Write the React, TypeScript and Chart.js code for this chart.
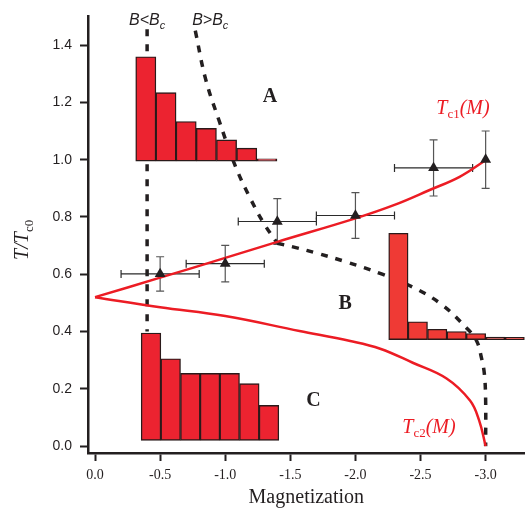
import React, { useEffect, useRef } from 'react';
import { Chart, registerables } from 'chart.js';

Chart.register(...registerables);

// ---------- axis ticks ----------
const xTickValues = [0, -0.5, -1.0, -1.5, -2.0, -2.5, -3.0];
const yTickValues = [0, 0.2, 0.4, 0.6, 0.8, 1.0, 1.2, 1.4];

// ---------- histogram A (top) ----------
const histACenters = [-0.39, -0.545, -0.7, -0.855, -1.01, -1.165, -1.32];
const histATops = [1.359, 1.234, 1.133, 1.109, 1.069, 1.04, 1.003];
const histABase = 0.995;

// ---------- histogram B (right) ----------
const histBCenters = [-2.33, -2.479, -2.628, -2.777, -2.926, -3.075, -3.224];
const histBTops = [0.743, 0.434, 0.408, 0.4, 0.393, 0.381, 0.38];
const histBBase = 0.372;

// ---------- histogram C (bottom) ----------
const histCCenters = [-0.43, -0.581, -0.732, -0.883, -1.034, -1.185, -1.336];
const histCTops = [0.395, 0.305, 0.254, 0.254, 0.254, 0.218, 0.142];
const histCBase = 0.02;

// ---------- Tc1(M) curve ----------
const tc1X = [0, -0.5, -1.0, -1.4, -2.0, -2.3, -2.57, -2.8, -3.0];
const tc1Y = [0.52, 0.588, 0.657, 0.713, 0.795, 0.842, 0.894, 0.94, 0.998];

// ---------- Tc2(M) curve ----------
const tc2X = [0, -0.5, -1.0, -1.57, -1.96, -2.19, -2.44, -2.7, -2.88, -2.95, -3.0];
const tc2Y = [0.52, 0.485, 0.454, 0.402, 0.367, 0.34, 0.291, 0.236, 0.159, 0.09, 0.0];

// ---------- dashed boundaries ----------
const belowBcX = [-0.4, -0.4];
const belowBcY = [1.455, 0.4];
const aboveBcUpperX = [-0.77, -0.85, -0.95, -1.08, -1.2, -1.3, -1.4];
const aboveBcUpperY = [1.45, 1.28, 1.14, 0.975, 0.858, 0.775, 0.708];
const aboveBcLowerX = [-1.4, -1.55, -1.7, -1.93, -2.2, -2.44, -2.66, -2.85, -2.93, -2.967, -2.99, -3.0, -3.0];
const aboveBcLowerY = [0.708, 0.692, 0.674, 0.643, 0.601, 0.555, 0.495, 0.414, 0.368, 0.31, 0.253, 0.16, 0.0];

// ---------- measured points ----------
const ptX = [-0.5, -1.0, -1.4, -2.0, -2.6, -3.0];
const ptY = [0.601, 0.637, 0.784, 0.805, 0.971, 1.0];
const ptXErr = [0.3, 0.3, 0.3, 0.3, 0.3, 0];
const ptYErr = [0.06, 0.064, 0.08, 0.08, 0.098, 0.1];

const X_MIN = -3.3;
const X_MAX = 0.054;
const Y_MIN = -0.024;
const Y_MAX = 1.5;

const AXIS = '#231f20';
const RED = '#ec1c24';
const BAR_RED = '#ec2330';
const BAR_RED_B = '#ef3a35';
const BAR_EDGE = '#2a1a1a';

const SERIF = '"Liberation Serif", "Times New Roman", serif';
const SANS = '"Liberation Sans", Arial, sans-serif';

type Seg = { t: string; font: string; dy?: number };

function drawRich(ctx: CanvasRenderingContext2D, segs: Seg[], x: number, y: number, align: 'left' | 'center', color: string) {
  ctx.fillStyle = color;
  ctx.textBaseline = 'alphabetic';
  ctx.textAlign = 'left';
  const widths = segs.map((s) => {
    ctx.font = s.font;
    return ctx.measureText(s.t).width;
  });
  const total = widths.reduce((a, b) => a + b, 0);
  let cx = align === 'center' ? x - total / 2 : x;
  segs.forEach((s, i) => {
    ctx.font = s.font;
    ctx.fillText(s.t, cx, y + (s.dy || 0));
    cx += widths[i];
  });
}

const errorBarPlugin = {
  id: 'errorBars',
  beforeDatasetsDraw(chart: any) {
    const { ctx } = chart;
    const xs = chart.scales.x;
    const ys = chart.scales.y;
    ctx.save();
    ctx.lineWidth = 1.2;
    const cap = 4;
    ptX.forEach((vx, i) => {
      const cx = xs.getPixelForValue(vx);
      const cy = ys.getPixelForValue(ptY[i]);
      if (ptXErr[i] > 0) {
        const x1 = xs.getPixelForValue(vx - ptXErr[i]);
        const x2 = xs.getPixelForValue(vx + ptXErr[i]);
        ctx.strokeStyle = '#2b2b2b';
        ctx.beginPath();
        ctx.moveTo(x1, cy); ctx.lineTo(x2, cy);
        ctx.moveTo(x1, cy - cap); ctx.lineTo(x1, cy + cap);
        ctx.moveTo(x2, cy - cap); ctx.lineTo(x2, cy + cap);
        ctx.stroke();
      }
      if (ptYErr[i] > 0) {
        const y1 = ys.getPixelForValue(ptY[i] - ptYErr[i]);
        const y2 = ys.getPixelForValue(ptY[i] + ptYErr[i]);
        ctx.strokeStyle = '#555555';
        ctx.beginPath();
        ctx.moveTo(cx, y1); ctx.lineTo(cx, y2);
        ctx.moveTo(cx - cap, y1); ctx.lineTo(cx + cap, y1);
        ctx.moveTo(cx - cap, y2); ctx.lineTo(cx + cap, y2);
        ctx.stroke();
      }
    });
    ctx.restore();
  },
};

const textPlugin = {
  id: 'annotText',
  afterDatasetsDraw(chart: any) {
    const { ctx } = chart;
    const xs = chart.scales.x;
    const ys = chart.scales.y;
    const px = (v: number) => xs.getPixelForValue(v);
    const py = (v: number) => ys.getPixelForValue(v);
    ctx.save();
    // B<Bc and B>Bc
    drawRich(ctx, [
      { t: 'B<B', font: `italic 16px ${SANS}` },
      { t: 'c', font: `italic 11px ${SANS}`, dy: 4 },
    ], px(-0.4), py(1.471), 'center', AXIS);
    drawRich(ctx, [
      { t: 'B>B', font: `italic 16px ${SANS}` },
      { t: 'c', font: `italic 11px ${SANS}`, dy: 4 },
    ], px(-0.885), py(1.471), 'center', AXIS);
    // region letters
    drawRich(ctx, [{ t: 'A', font: `bold 20px ${SERIF}` }], px(-1.343), py(1.2025), 'center', AXIS);
    drawRich(ctx, [{ t: 'B', font: `bold 20px ${SERIF}` }], px(-1.922), py(0.478), 'center', AXIS);
    drawRich(ctx, [{ t: 'C', font: `bold 20px ${SERIF}` }], px(-1.678), py(0.139), 'center', AXIS);
    // curve labels
    drawRich(ctx, [
      { t: 'T', font: `italic 20px ${SERIF}` },
      { t: 'c1', font: `13px ${SERIF}`, dy: 4 },
      { t: '(M)', font: `italic 20px ${SERIF}` },
    ], px(-2.621), py(1.158), 'left', RED);
    drawRich(ctx, [
      { t: 'T', font: `italic 20px ${SERIF}` },
      { t: 'c2', font: `13px ${SERIF}`, dy: 4 },
      { t: '(M)', font: `italic 20px ${SERIF}` },
    ], px(-2.36), py(0.046), 'left', RED);
    // y axis title
    ctx.translate(chart.chartArea.left - 60, py(0.72));
    ctx.rotate(-Math.PI / 2);
    drawRich(ctx, [
      { t: 'T/T', font: `italic 20px ${SERIF}` },
      { t: 'c0', font: `13px ${SERIF}`, dy: 5 },
    ], 0, 0, 'center', AXIS);
    ctx.restore();
  },
};

const toXY = (xs: number[], ys: number[]) => xs.map((x, i) => ({ x, y: ys[i] }));
const toBars = (cs: number[], tops: number[], base: number) => cs.map((x, i) => ({ x, y: [base, tops[i]] }));

const hiddenX = () => ({
  type: 'linear',
  axis: 'x',
  position: 'bottom',
  display: false,
  min: X_MIN,
  max: X_MAX,
  reverse: true,
  offset: false,
  afterBuildTicks: (s: any) => { s.ticks = []; },
});

export default function App() {
  const ref = useRef<HTMLCanvasElement | null>(null);

  useEffect(() => {
    if (!ref.current) return;
    const barCommon = {
      type: 'bar' as const,
      grouped: false,
      barPercentage: 1,
      categoryPercentage: 1,
      borderWidth: 1.4,
      borderColor: BAR_EDGE,
      borderSkipped: false,
      order: 1,
    };
    const dashCommon = {
      type: 'line' as const,
      showLine: true,
      borderColor: AXIS,
      borderWidth: 3.5,
      borderDash: [7, 8],
      pointRadius: 0,
      fill: false,
      order: 3,
    };
    const chart = new Chart(ref.current, {
      type: 'scatter',
      data: {
        datasets: [
          {
            type: 'scatter',
            label: 'measured',
            data: toXY(ptX, ptY),
            pointStyle: 'triangle',
            pointRadius: 6.3,
            backgroundColor: AXIS,
            borderColor: AXIS,
            borderWidth: 0,
            order: 0,
          } as any,
          { ...barCommon, label: 'A', xAxisID: 'xA', data: toBars(histACenters, histATops, histABase), backgroundColor: BAR_RED } as any,
          { ...barCommon, label: 'B', xAxisID: 'xB', data: toBars(histBCenters, histBTops, histBBase), backgroundColor: BAR_RED_B } as any,
          { ...barCommon, label: 'C', xAxisID: 'xC', data: toBars(histCCenters, histCTops, histCBase), backgroundColor: BAR_RED } as any,
          {
            type: 'line',
            label: 'Tc1(M)',
            data: toXY(tc1X, tc1Y),
            showLine: true,
            borderColor: RED,
            borderWidth: 2.5,
            pointRadius: 0,
            tension: 0.4,
            fill: false,
            order: 2,
          } as any,
          {
            type: 'line',
            label: 'Tc2(M)',
            data: toXY(tc2X, tc2Y),
            showLine: true,
            borderColor: RED,
            borderWidth: 2.5,
            pointRadius: 0,
            tension: 0.4,
            fill: false,
            order: 2,
          } as any,
          { ...dashCommon, label: 'B<Bc', data: toXY(belowBcX, belowBcY), tension: 0 } as any,
          { ...dashCommon, label: 'B>Bc upper', data: toXY(aboveBcUpperX, aboveBcUpperY), tension: 0.4 } as any,
          { ...dashCommon, label: 'B>Bc lower', data: toXY(aboveBcLowerX, aboveBcLowerY), tension: 0.4 } as any,
        ],
      },
      options: {
        animation: false,
        responsive: false,
        devicePixelRatio: 1,
        events: [],
        layout: { padding: { top: 13, right: 6, left: 0, bottom: 0 } },
        plugins: { legend: { display: false }, tooltip: { enabled: false } },
        scales: {
          x: {
            type: 'linear',
            position: 'bottom',
            min: X_MIN,
            max: X_MAX,
            reverse: true,
            offset: false,
            border: { display: true, color: AXIS, width: 2.5 },
            grid: { display: true, drawOnChartArea: false, drawTicks: true, tickLength: 8, tickWidth: 2, tickColor: AXIS, offset: false },
            ticks: {
              autoSkip: false,
              maxRotation: 0,
              padding: 6,
              color: AXIS,
              font: { family: SERIF, size: 14 },
              callback: (v: any) => Number(v).toFixed(1),
            },
            afterBuildTicks: (s: any) => { s.ticks = xTickValues.map((value) => ({ value })); },
            afterFit: (s: any) => { s.height = 59; },
            title: {
              display: true,
              text: 'Magnetization',
              color: AXIS,
              font: { family: SERIF, size: 20 },
              padding: { top: 0, bottom: 2 },
            },
          },
          xA: hiddenX(),
          xB: hiddenX(),
          xC: hiddenX(),
          y: {
            type: 'linear',
            position: 'left',
            min: Y_MIN,
            max: Y_MAX,
            border: { display: true, color: AXIS, width: 2.5 },
            grid: { display: true, drawOnChartArea: false, drawTicks: true, tickLength: 8, tickWidth: 2, tickColor: AXIS },
            ticks: {
              autoSkip: false,
              padding: 8,
              color: AXIS,
              font: { family: SANS, size: 14 },
              callback: (v: any) => Number(v).toFixed(1),
            },
            afterBuildTicks: (s: any) => { s.ticks = yTickValues.map((value) => ({ value })); },
            afterFit: (s: any) => { s.width = 88; },
          },
        } as any,
      },
      plugins: [errorBarPlugin, textPlugin],
    } as any);
    return () => chart.destroy();
  }, []);

  return (
    <div style={{ position: 'absolute', left: 0, top: 0, width: 531, height: 512, background: '#ffffff' }}>
      <canvas ref={ref} width={531} height={512} style={{ display: 'block' }} />
    </div>
  );
}
